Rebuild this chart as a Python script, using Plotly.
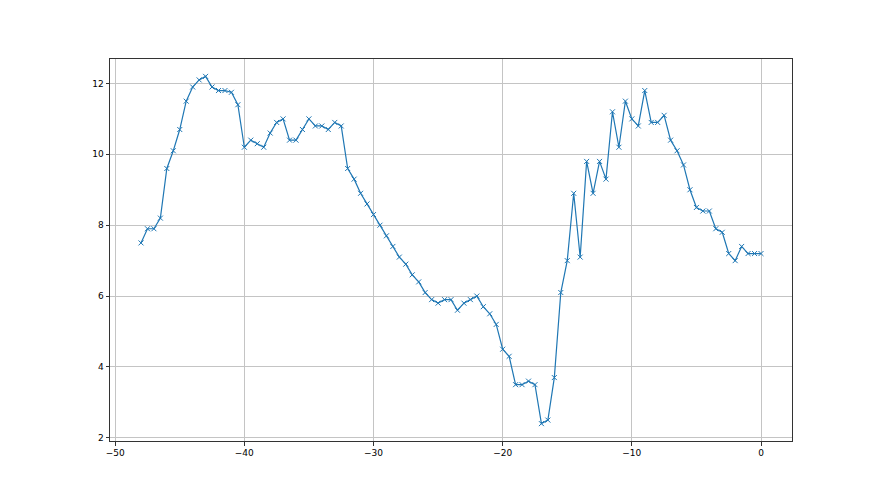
import plotly.graph_objects as go

x_values = [-48 + 0.5 * i for i in range(97)]
y_values = [
    7.5, 7.9, 7.9, 8.2, 9.6, 10.1, 10.7, 11.5, 11.9, 12.1,
    12.2, 11.9, 11.8, 11.8, 11.75, 11.4, 10.2, 10.4, 10.3, 10.2,
    10.6, 10.9, 11.0, 10.4, 10.4, 10.7, 11.0, 10.8, 10.8, 10.7,
    10.9, 10.8, 9.6, 9.3, 8.9, 8.6, 8.3, 8.0, 7.7, 7.4,
    7.1, 6.9, 6.6, 6.4, 6.1, 5.9, 5.8, 5.9, 5.9, 5.6,
    5.8, 5.9, 6.0, 5.7, 5.5, 5.2, 4.5, 4.3, 3.5, 3.5,
    3.6, 3.5, 2.4, 2.5, 3.7, 6.1, 7.0, 8.9, 7.1, 9.8,
    8.9, 9.8, 9.3, 11.2, 10.2, 11.5, 11.0, 10.8, 11.8, 10.9,
    10.9, 11.1, 10.4, 10.1, 9.7, 9.0, 8.5, 8.4, 8.4, 7.9,
    7.8, 7.2, 7.0, 7.4, 7.2, 7.2, 7.2,
]
x_ticks = [-50, -40, -30, -20, -10, 0]
y_ticks = [2, 4, 6, 8, 10, 12]

fig = go.Figure()
fig.add_trace(go.Scatter(
    x=x_values, y=y_values, mode="lines+markers",
    line=dict(color="#1f77b4", width=1.2),
    marker=dict(symbol="x-thin", size=5, line=dict(color="#1f77b4", width=1)),
    showlegend=False,
))

axis_common = dict(
    showline=True, mirror=True, linecolor="#333333", linewidth=1,
    ticks="outside", ticklen=3.5, tickwidth=0.8, tickcolor="#333333",
    showgrid=True, gridcolor="#c4c4c4", gridwidth=0.8, zeroline=False,
    tickfont=dict(family="DejaVu Sans", size=9, color="#000000"),
)
fig.update_xaxes(range=[-50.4, 2.4], tickvals=x_ticks, **axis_common)
fig.update_yaxes(range=[1.91, 12.69], tickvals=y_ticks, **axis_common)

fig.update_layout(
    width=880, height=495,
    margin=dict(l=102, r=96, t=51, b=62),
    paper_bgcolor="white", plot_bgcolor="white",
)
fig.write_html("out.html")
